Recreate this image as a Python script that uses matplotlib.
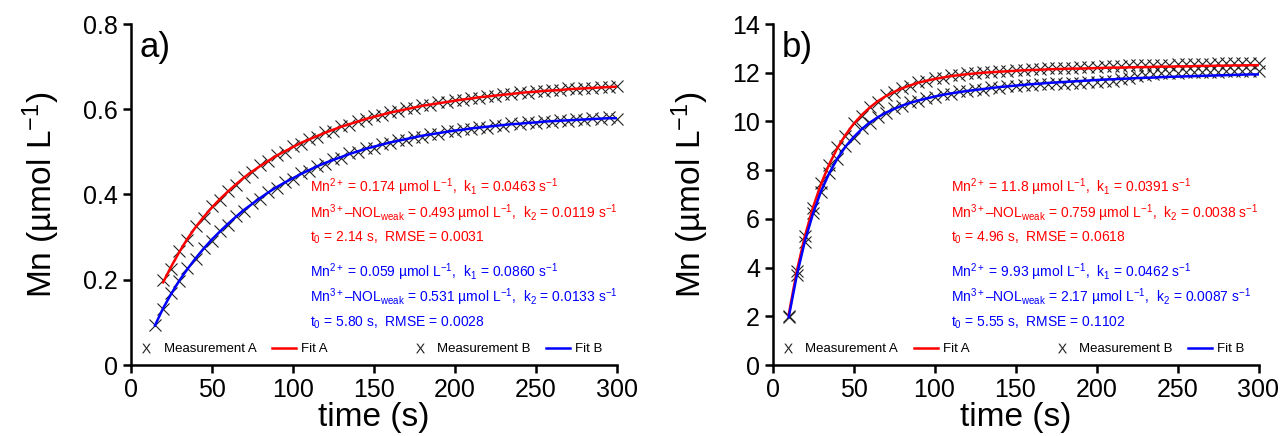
import numpy as np
import matplotlib
matplotlib.use("Agg")
import matplotlib.pyplot as plt
from matplotlib.lines import Line2D

plt.rcParams["font.family"] = "Liberation Sans"
plt.rcParams["mathtext.fontset"] = "custom"
plt.rcParams["mathtext.rm"] = "Liberation Sans"
plt.rcParams["mathtext.it"] = "Liberation Sans:italic"

# panel a) -- sampling times (s) and Mn (umol/L)
t_a_red = np.arange(20, 301, 5)
t_a_blue = np.arange(15, 301, 5)
meas_a_red = [0.199, 0.226, 0.268, 0.293, 0.326, 0.345, 0.372, 0.387, 0.409, 0.422,
              0.442, 0.452, 0.469, 0.478, 0.493, 0.499, 0.513, 0.519, 0.531, 0.536,
              0.547, 0.550, 0.561, 0.564, 0.573, 0.576, 0.584, 0.586, 0.594, 0.595,
              0.602, 0.603, 0.610, 0.610, 0.616, 0.616, 0.622, 0.622, 0.627, 0.627,
              0.632, 0.631, 0.636, 0.635, 0.640, 0.639, 0.643, 0.642, 0.646, 0.645,
              0.649, 0.648, 0.651, 0.650, 0.653, 0.652, 0.654]
fit_a_red = [0.194, 0.231, 0.265, 0.296, 0.323, 0.347, 0.369, 0.389, 0.407, 0.424,
             0.440, 0.454, 0.467, 0.479, 0.491, 0.501, 0.511, 0.521, 0.529, 0.537,
             0.545, 0.552, 0.559, 0.565, 0.571, 0.577, 0.582, 0.587, 0.592, 0.596,
             0.600, 0.604, 0.608, 0.611, 0.614, 0.617, 0.620, 0.623, 0.625, 0.628,
             0.630, 0.632, 0.634, 0.636, 0.638, 0.640, 0.641, 0.643, 0.644, 0.645,
             0.647, 0.648, 0.649, 0.650, 0.651, 0.652, 0.653]
meas_a_blue = [0.094, 0.131, 0.169, 0.196, 0.227, 0.248, 0.275, 0.292, 0.315, 0.329,
               0.350, 0.362, 0.380, 0.390, 0.407, 0.415, 0.430, 0.436, 0.450, 0.455,
               0.468, 0.472, 0.483, 0.486, 0.497, 0.499, 0.509, 0.510, 0.519, 0.520,
               0.528, 0.528, 0.536, 0.536, 0.543, 0.542, 0.549, 0.548, 0.554, 0.553,
               0.559, 0.557, 0.563, 0.561, 0.567, 0.565, 0.570, 0.568, 0.573, 0.571,
               0.575, 0.573, 0.577, 0.575, 0.579, 0.577, 0.581, 0.578]
fit_a_blue = [0.093, 0.133, 0.167, 0.198, 0.225, 0.250, 0.273, 0.294, 0.313, 0.331,
              0.348, 0.364, 0.378, 0.392, 0.405, 0.417, 0.428, 0.438, 0.448, 0.457,
              0.466, 0.474, 0.481, 0.488, 0.495, 0.501, 0.507, 0.512, 0.517, 0.522,
              0.526, 0.530, 0.534, 0.538, 0.541, 0.544, 0.547, 0.550, 0.552, 0.555,
              0.557, 0.559, 0.561, 0.563, 0.565, 0.566, 0.568, 0.569, 0.571, 0.572,
              0.573, 0.574, 0.575, 0.576, 0.577, 0.578, 0.579, 0.579]

# panel b)
t_b = np.arange(10, 301, 5)
meas_b_red = [2.02, 3.84, 5.31, 6.44, 7.47, 8.21, 8.93, 9.41, 9.92, 10.23,
              10.60, 10.80, 11.07, 11.19, 11.39, 11.46, 11.62, 11.66, 11.77, 11.79,
              11.89, 11.90, 11.97, 11.97, 12.03, 12.03, 12.07, 12.07, 12.11, 12.11,
              12.15, 12.14, 12.18, 12.18, 12.20, 12.21, 12.22, 12.23, 12.25, 12.26,
              12.28, 12.28, 12.30, 12.31, 12.31, 12.32, 12.33, 12.33, 12.35, 12.34,
              12.36, 12.36, 12.37, 12.38, 12.38, 12.39, 12.39, 12.40, 12.41]
fit_b_red = [2.06, 3.86, 5.29, 6.47, 7.44, 8.24, 8.90, 9.44, 9.89, 10.26,
             10.57, 10.83, 11.04, 11.21, 11.36, 11.48, 11.59, 11.67, 11.74, 11.80,
             11.86, 11.90, 11.94, 11.97, 12.00, 12.02, 12.04, 12.06, 12.08, 12.10,
             12.11, 12.12, 12.14, 12.15, 12.16, 12.17, 12.17, 12.18, 12.19, 12.20,
             12.21, 12.21, 12.22, 12.23, 12.23, 12.24, 12.25, 12.25, 12.26, 12.26,
             12.27, 12.28, 12.28, 12.29, 12.29, 12.30, 12.30, 12.31, 12.31]
meas_b_blue = [1.96, 3.70, 5.07, 6.25, 7.12, 7.90, 8.45, 8.99, 9.33, 9.71,
               9.93, 10.20, 10.34, 10.54, 10.63, 10.79, 10.84, 10.97, 11.00, 11.12,
               11.13, 11.23, 11.23, 11.32, 11.31, 11.40, 11.38, 11.46, 11.44, 11.51,
               11.49, 11.53, 11.52, 11.56, 11.55, 11.58, 11.57, 11.60, 11.61, 11.64,
               11.68, 11.73, 11.79, 11.85, 11.90, 11.94, 11.97, 11.99, 12.00, 12.01,
               12.02, 12.03, 12.03, 12.04, 12.05, 12.05, 12.06, 12.06, 12.07]
fit_b_blue = [1.96, 3.68, 5.09, 6.22, 7.14, 7.87, 8.47, 8.96, 9.35, 9.68,
              9.95, 10.17, 10.36, 10.51, 10.65, 10.76, 10.86, 10.94, 11.02, 11.09,
              11.15, 11.20, 11.25, 11.29, 11.33, 11.37, 11.41, 11.44, 11.47, 11.50,
              11.53, 11.55, 11.58, 11.60, 11.62, 11.64, 11.66, 11.68, 11.70, 11.72,
              11.73, 11.75, 11.76, 11.78, 11.79, 11.80, 11.82, 11.83, 11.84, 11.85,
              11.86, 11.87, 11.88, 11.89, 11.90, 11.91, 11.92, 11.93, 11.93]

xticks = [0, 50, 100, 150, 200, 250, 300]
yticks_a = [0, 0.2, 0.4, 0.6, 0.8]
yticklabels_a = ["0", "0.2", "0.4", "0.6", "0.8"]
yticks_b = [0, 2, 4, 6, 8, 10, 12, 14]

weak = r"Mn$^{3+}$–NOL$_{\mathrm{weak}}$"
text_a_red = [r"Mn$^{2+}$ = 0.174 µmol L$^{-1}$,  k$_1$ = 0.0463 s$^{-1}$",
              weak + r" = 0.493 µmol L$^{-1}$,  k$_2$ = 0.0119 s$^{-1}$",
              r"t$_0$ = 2.14 s,  RMSE = 0.0031"]
text_a_blue = [r"Mn$^{2+}$ = 0.059 µmol L$^{-1}$,  k$_1$ = 0.0860 s$^{-1}$",
               weak + r" = 0.531 µmol L$^{-1}$,  k$_2$ = 0.0133 s$^{-1}$",
               r"t$_0$ = 5.80 s,  RMSE = 0.0028"]
text_b_red = [r"Mn$^{2+}$ = 11.8 µmol L$^{-1}$,  k$_1$ = 0.0391 s$^{-1}$",
              weak + r" = 0.759 µmol L$^{-1}$,  k$_2$ = 0.0038 s$^{-1}$",
              r"t$_0$ = 4.96 s,  RMSE = 0.0618"]
text_b_blue = [r"Mn$^{2+}$ = 9.93 µmol L$^{-1}$,  k$_1$ = 0.0462 s$^{-1}$",
               weak + r" = 2.17 µmol L$^{-1}$,  k$_2$ = 0.0087 s$^{-1}$",
               r"t$_0$ = 5.55 s,  RMSE = 0.1102"]

RED = "#ff0000"
BLUE = "#0000ff"
W, H = 1284, 436


def panel(ax, label, t_red, m_red, f_red, t_blue, m_blue, f_blue,
          yticks, yticklabels, ylim, txt_red, txt_blue):
    mk = dict(ls="none", marker="x", ms=8, mew=0.8, color="#222222", clip_on=False, zorder=2)
    ax.plot(t_red, m_red, **mk)
    ax.plot(t_blue, m_blue, **mk)
    ax.plot(t_red, f_red, color=RED, lw=1.8, zorder=3)
    ax.plot(t_blue, f_blue, color=BLUE, lw=1.8, zorder=3)

    ax.set_xlim(0, 300)
    ax.set_ylim(*ylim)
    ax.set_xticks(xticks)
    ax.set_yticks(yticks)
    ax.set_yticklabels(yticklabels)
    for s in ("top", "right"):
        ax.spines[s].set_visible(False)
    for s in ("left", "bottom"):
        ax.spines[s].set_linewidth(1.8)
    ax.tick_params(direction="out", length=6, width=1.8, labelsize=18, pad=3)
    ax.set_xlabel("time (s)", fontsize=24, labelpad=0)
    ax.set_ylabel(r"Mn (µmol L$^{-1}$)", fontsize=24, labelpad=15)

    ax.text(0.019, 0.93, label, transform=ax.transAxes, fontsize=25, va="center")

    x0 = 0.368
    for y, s in zip([0.508, 0.432, 0.362], txt_red):
        ax.text(x0, y, s, color=RED, fontsize=10, transform=ax.transAxes, va="baseline")
    for y, s in zip([0.259, 0.186, 0.112], txt_blue):
        ax.text(x0, y, s, color=BLUE, fontsize=10, transform=ax.transAxes, va="baseline")

    mh = Line2D([], [], ls="none", marker=r"$\mathrm{X}$", ms=7, color="#222222", mew=0)
    ha = Line2D([], [], color=RED, lw=1.8)
    hb = Line2D([], [], color=BLUE, lw=1.8)
    ly = (365 - 349.3) / 341
    opts = dict(ncol=2, loc="center left", frameon=False, fontsize=9.5, handlelength=1.8,
                handletextpad=0.4, columnspacing=1.2, borderpad=0, borderaxespad=0)
    leg1 = ax.legend([mh, ha], ["Measurement A", "Fit A"], bbox_to_anchor=(0.008, ly), **opts)
    ax.add_artist(leg1)
    ax.legend([mh, hb], ["Measurement B", "Fit B"], bbox_to_anchor=(0.5706, ly), **opts)


fig = plt.figure(figsize=(W / 100, H / 100), dpi=100)
ax_a = fig.add_axes([130.7 / W, 71 / H, 486 / W, 341 / H])
ax_b = fig.add_axes([772.5 / W, 71 / H, 486 / W, 341 / H])

panel(ax_a, "a)", t_a_red, meas_a_red, fit_a_red, t_a_blue, meas_a_blue, fit_a_blue,
      yticks_a, yticklabels_a, (0, 0.8), text_a_red, text_a_blue)
panel(ax_b, "b)", t_b, meas_b_red, fit_b_red, t_b, meas_b_blue, fit_b_blue,
      yticks_b, [str(v) for v in yticks_b], (0, 14), text_b_red, text_b_blue)

fig.savefig("out.png", dpi=100)
